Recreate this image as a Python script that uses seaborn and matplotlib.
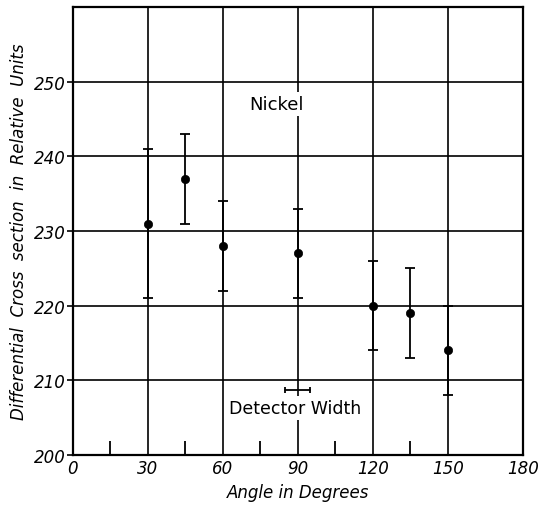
import matplotlib
matplotlib.use("Agg")
import matplotlib.pyplot as plt
import seaborn as sns
import pandas as pd
import numpy as np

angles = [30, 45, 60, 90, 120, 135, 150]
values = [231, 237, 228, 227, 220, 219, 214]
err_low = [221, 231, 222, 221, 214, 213, 208]
err_high = [241, 243, 234, 233, 226, 225, 220]

x_ticks = [0, 30, 60, 90, 120, 150, 180]
x_minor = [15, 45, 75, 105, 135]
y_ticks = [200, 210, 220, 230, 240, 250]
detector = [85, 95]
detector_y = 208.7

sns.set_style("white")
plt.rcParams['font.family'] = ['DejaVu Sans']
plt.rcParams['text.color'] = 'black'
plt.rcParams['axes.labelcolor'] = 'black'
plt.rcParams['xtick.color'] = 'black'
plt.rcParams['ytick.color'] = 'black'

fig = plt.figure(figsize=(5.39, 5.06), dpi=100)
ax = fig.add_axes([0.135, 0.099, 0.835, 0.885])

df = pd.DataFrame({"angle": angles, "value": values})
lo = np.array(values) - np.array(err_low)
hi = np.array(err_high) - np.array(values)
ax.errorbar(angles, values, yerr=[lo, hi], fmt='none', ecolor='black',
            elinewidth=1.3, capsize=3.5, capthick=1.3, zorder=3)
sns.scatterplot(data=df, x="angle", y="value", ax=ax, color='black',
                s=36, edgecolor='black', zorder=4, legend=False)

ax.set_xlim(0, 180)
ax.set_ylim(200, 260)
ax.set_xticks(x_ticks)
ax.set_xticks(x_minor, minor=True)
ax.set_yticks(y_ticks)
ax.set_xticklabels([str(t) for t in x_ticks], fontsize=12, style='italic')
ax.set_yticklabels([str(t) for t in y_ticks], fontsize=12, style='italic')
ax.tick_params(axis='x', which='major', length=0, pad=3)
ax.tick_params(axis='x', which='minor', direction='in', length=10, width=1.3,
               bottom=True, color='black')
ax.tick_params(axis='y', which='major', direction='out', length=4, width=1.2,
               left=True, color='black', pad=1)

ax.grid(True, which='major', color='black', linewidth=1.2)
ax.set_axisbelow(True)
for s in ax.spines.values():
    s.set_color('black')
    s.set_linewidth(1.6)

ax.set_xlabel("Angle in Degrees", fontsize=12, style='italic', labelpad=4)
ax.set_ylabel("Differential  Cross  section  in  Relative  Units", fontsize=12,
              style='italic', labelpad=4)

ax.text(81.5, 247, "Nickel", fontsize=13, ha='center', va='center',
        bbox=dict(facecolor='white', edgecolor='none', pad=2), zorder=2)
ax.plot(detector, [detector_y, detector_y], color='black', lw=1.3,
        marker='|', markersize=5, markeredgewidth=1.3, zorder=3)
ax.text(89, 206.3, "Detector Width", fontsize=12.5, ha='center', va='center',
        bbox=dict(facecolor='white', edgecolor='none', pad=2), zorder=2)

fig.savefig("out.png", dpi=100)
